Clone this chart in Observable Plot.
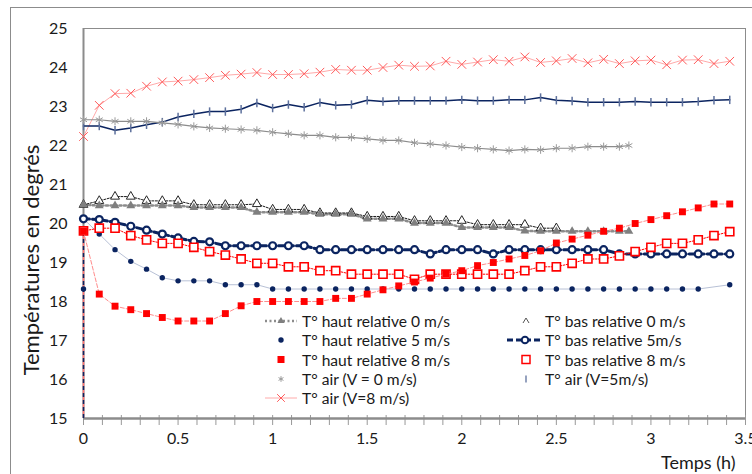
<!DOCTYPE html>
<html><head><meta charset="utf-8">
<script src="https://cdn.jsdelivr.net/npm/d3@7"></script>
<script src="https://cdn.jsdelivr.net/npm/@observablehq/plot@0.6"></script>
<style>
html,body{margin:0;padding:0;background:#fff;overflow:hidden;}
#wrap{position:relative;width:752px;height:474px;overflow:hidden;font-family:Lato,sans-serif;color:#1a1a1a;background:#fff;}
#border{position:absolute;left:10px;top:7px;width:800px;height:600px;border:1px solid #8c8c8c;}
#chart{position:absolute;left:0;top:0;}
#ytitle{position:absolute;left:30px;top:260px;transform:translate(-50%,-50%) rotate(-90deg);font-size:22px;white-space:nowrap;}
#xtitle{position:absolute;left:661px;top:451px;font-size:18px;white-space:nowrap;line-height:22px;}
#lgsvg{position:absolute;left:0;top:0;}
.lg{position:absolute;font-size:15.6px;white-space:nowrap;line-height:18px;height:18px;}
</style></head>
<body><div id="wrap"><div id="border"></div><div id="chart"></div>
<div id="ytitle">Températures en degrés</div>
<div id="xtitle">Temps (h)</div>
</div>
<script>
// ---- data (time in minutes, temperatures in °C) ----
const minutes = [0,5,10,15,20,25,30,35,40,45,50,55,60,65,70,75,80,85,90,95,100,105,110,115,120,125,130,135,140,145,150,155,160,165,170,175,180,185,190,195,200,205];
const minutes0 = [0,5,10,15,20,25,30,35,40,45,50,55,60,65,70,75,80,85,90,95,100,105,110,115,120,125,130,135,140,145,150,155,160,165,170,173];
const minutesBas0 = [0,5,10,15,20,25,30,35,40,45,50,55,60,65,70,75,80,85,90,95,100,105,110,115,120,125,130,135,140,145,150];

const hautRel0 = [20.48,20.46,20.46,20.46,20.46,20.46,20.46,20.41,20.41,20.41,20.41,20.29,20.29,20.29,20.29,20.24,20.24,20.24,20.12,20.12,20.12,20.01,20.01,20.01,19.90,19.90,19.90,19.90,19.81,19.80,19.80,19.80,19.80,19.80,19.80,19.80];
const basRel0 = [20.48,20.58,20.69,20.69,20.58,20.58,20.58,20.48,20.48,20.48,20.48,20.50,20.36,20.36,20.36,20.27,20.27,20.27,20.18,20.18,20.18,20.07,20.07,20.07,20.07,19.97,19.97,19.97,19.97,19.88,19.88];
const hautRel5 = [18.32,19.73,19.33,19.03,18.83,18.61,18.53,18.53,18.53,18.43,18.43,18.43,18.32,18.32,18.32,18.32,18.32,18.32,18.32,18.32,18.32,18.32,18.32,18.32,18.32,18.32,18.32,18.32,18.32,18.32,18.32,18.32,18.32,18.32,18.32,18.32,18.32,18.32,18.32,18.32,null,18.43];
const basRel5 = [20.12,20.10,20.03,19.93,19.83,19.73,19.63,19.54,19.53,19.43,19.43,19.43,19.43,19.43,19.43,19.33,19.33,19.33,19.33,19.33,19.33,19.33,19.22,19.33,19.33,19.33,19.22,19.33,19.33,19.33,19.33,19.33,19.33,19.33,19.22,19.22,19.22,19.22,19.22,19.22,19.22,19.22];
const hautRel8 = [19.80,18.19,17.88,17.79,17.69,17.59,17.50,17.50,17.50,17.69,17.89,18.00,18.00,18.00,18.00,18.00,18.08,18.08,18.19,18.30,18.40,18.50,18.60,18.70,18.79,18.92,19.00,19.09,19.18,19.30,19.50,19.60,19.70,19.80,19.88,20.00,20.10,20.20,20.30,20.40,20.50,20.50];
const basRel8 = [19.81,19.88,19.88,19.69,19.58,19.49,19.49,19.39,19.28,19.19,19.09,18.98,18.98,18.89,18.89,18.79,18.79,18.70,18.70,18.70,18.70,18.57,18.70,18.70,18.70,18.70,18.70,18.70,18.79,18.89,18.89,18.98,19.09,19.09,19.17,19.28,19.39,19.49,19.49,19.58,19.69,19.79];
const air0 = [22.66,22.66,22.62,22.62,22.62,22.58,22.54,22.49,22.45,22.43,22.41,22.39,22.34,22.30,22.26,22.26,22.21,22.21,22.17,22.13,22.13,22.07,22.04,22.00,21.96,21.93,21.90,21.87,21.90,21.89,21.93,21.93,21.97,21.97,21.97,22.00];
const air5 = [22.50,22.50,22.39,22.45,22.53,22.60,22.73,22.81,22.87,22.87,22.93,23.09,22.96,23.05,22.98,23.10,23.03,23.05,23.16,23.13,23.15,23.15,23.15,23.15,23.17,23.15,23.15,23.17,23.17,23.23,23.16,23.14,23.11,23.11,23.11,23.13,23.11,23.11,23.11,23.13,23.16,23.17];
const air8 = [22.23,23.03,23.33,23.34,23.52,23.63,23.65,23.69,23.74,23.80,23.83,23.87,23.82,23.82,23.84,23.88,23.95,23.93,23.93,24.00,24.06,24.03,24.04,24.16,24.08,24.14,24.20,24.16,24.27,24.13,24.17,24.23,24.12,24.21,24.10,24.17,24.19,24.07,24.19,24.20,24.10,24.16];

const xTicks = [0,0.5,1,1.5,2,2.5,3,3.5];
const xMinorTicks = [0,0.1,0.2,0.3,0.4,0.5,0.6,0.7,0.8,0.9,1,1.1,1.2,1.3,1.4,1.5,1.6,1.7,1.8,1.9,2,2.1,2.2,2.3,2.4,2.5,2.6,2.7,2.8,2.9,3,3.1,3.2,3.3,3.4,3.5];
const yTicks = [15,16,17,18,19,20,21,22,23,24,25];
const legendLabels = [
  "T° haut relative 0 m/s","T° haut relative 5 m/s","T° haut relative 8 m/s","T° air (V = 0 m/s)","T° air (V=8 m/s)",
  "T° bas relative 0 m/s","T° bas relative 5m/s","T° bas relative 8 m/s","T° air (V=5m/s)"
];

// ---- colours ----
const NAVY = "#0b2460", RED = "#ff0000", GREY = "#7f7f7f";

const rows = (ts, vs) => ts.map((m, i) => ({t: m / 60, v: vs[i]})).filter(d => d.v != null);
const dH0 = rows(minutes0, hautRel0), dB0 = rows(minutesBas0, basRel0);
const dH5 = rows(minutes, hautRel5), dB5 = rows(minutes, basRel5);
const dH8 = rows(minutes, hautRel8), dB8 = rows(minutes, basRel8);
const dA0 = rows(minutes0, air0), dA5 = rows(minutes, air5), dA8 = rows(minutes, air8);
const dH5line = [dB5[0], ...dH5.slice(1)];

const vbar = {draw(ctx, size) { const r = Math.sqrt(size / Math.PI); ctx.moveTo(0, -r); ctx.lineTo(0, r); }};

const chart = Plot.plot({
  width: 752, height: 474,
  marginLeft: 83, marginTop: 28, marginRight: 7, marginBottom: 56,
  style: {fontFamily: "Lato, sans-serif", fontSize: "16px", color: "#1a1a1a", background: "transparent"},
  x: {domain: [0, 3.5], ticks: xTicks, tickFormat: d => String(d), tickSize: 0, tickPadding: 14, label: null},
  y: {domain: [15, 25], ticks: yTicks, tickSize: 0, tickPadding: 16, label: null},
  marks: [
    Plot.frame({stroke: "#8c8c8c", strokeWidth: 1}),
    Plot.ruleX(xMinorTicks, {x: d => d, y1: yTicks[0], y2: yTicks[0], insetTop: -3, insetBottom: -7, stroke: "#999", strokeWidth: 1}),
    Plot.ruleY([yTicks[0]], {stroke: "#8c8c8c", strokeWidth: 2.5}),
    Plot.ruleX([0], {stroke: "#8c8c8c", strokeWidth: 2}),
    // vertical drop at t=0
    Plot.ruleX([0], {y1: yTicks[0], y2: hautRel8[0], stroke: "#ff6f6f", strokeWidth: 1.5}),
    Plot.ruleX([0], {y1: yTicks[0], y2: hautRel8[0], stroke: NAVY, strokeWidth: 1.5, strokeDasharray: "4,3"}),
    // air series
    Plot.line(dA8, {x: "t", y: "v", stroke: "#ffaaaa", strokeWidth: 1}),
    Plot.dot(dA8, {x: "t", y: "v", symbol: "times", r: 4, stroke: "#ff5a5a", strokeWidth: 1}),
    Plot.line(dA5, {x: "t", y: "v", stroke: NAVY, strokeWidth: 1.5}),
    Plot.dot(dA5, {x: "t", y: "v", symbol: vbar, r: 4.2, fill: "none", stroke: "#5d709c", strokeWidth: 1.5}),
    Plot.line(dA0, {x: "t", y: "v", stroke: "#8c8c8c", strokeWidth: 1.2}),
    Plot.dot(dA0, {x: "t", y: "v", symbol: "asterisk", r: 3.8, stroke: "#9a9a9a", strokeWidth: 1}),
    // 0 m/s
    Plot.line(dH0, {x: "t", y: "v", stroke: "#8c8c8c", strokeWidth: 2.5, strokeDasharray: "2,2.5"}),
    Plot.line(dB0, {x: "t", y: "v", stroke: "#1a1a1a", strokeWidth: 1, strokeDasharray: "2,1.5"}),
    Plot.dot(dB0, {x: "t", y: "v", symbol: "triangle", r: 3.3, fill: "white", stroke: "#262626", strokeWidth: 1}),
    Plot.dot(dH0, {x: "t", y: "v", symbol: "triangle", r: 3.3, fill: GREY, stroke: "none"}),
    // 5 m/s
    Plot.line(dH5line, {x: "t", y: "v", stroke: "#b8c1d6", strokeWidth: 1}),
    Plot.dot(dH5, {x: "t", y: "v", r: 2.7, fill: NAVY, stroke: "none"}),
    Plot.line(dB5, {x: "t", y: "v", stroke: NAVY, strokeWidth: 3, strokeDasharray: "6,3"}),
    Plot.dot(dB5, {x: "t", y: "v", r: 3.5, fill: "white", stroke: NAVY, strokeWidth: 2.2}),
    // 8 m/s
    Plot.line(dB8, {x: "t", y: "v", stroke: RED, strokeWidth: 1, strokeDasharray: "1.5,1.5"}),
    Plot.dot(dB8, {x: "t", y: "v", symbol: "square", r: 4.6, fill: "white", stroke: RED, strokeWidth: 1.6}),
    Plot.line(dH8, {x: "t", y: "v", stroke: "#ff8c8c", strokeWidth: 1, strokeDasharray: "4,2"}),
    Plot.dot(dH8, {x: "t", y: "v", symbol: "square", r: 3.9, fill: RED, stroke: "none"})
  ]
});
document.getElementById("chart").appendChild(chart);

// ---- legend (inside the plot area) ----
const wrap = document.getElementById("wrap");
const rowsY = [321, 340, 359.5, 379, 398];
const lg = d3.select(wrap).append("svg").attr("id", "lgsvg").attr("width", 752).attr("height", 474);
const sym = (type, size) => d3.symbol(type, size)();
legendLabels.forEach((lab, i) => {
  const col = i < 5 ? 0 : 1, r = i < 5 ? i : i - 5;
  const y = rowsY[r];
  const div = document.createElement("div");
  div.className = "lg"; div.textContent = lab;
  div.style.left = (col === 0 ? 302 : 545) + "px";
  div.style.top = (y - 9) + "px";
  wrap.appendChild(div);
  const cx = col === 0 ? 281 : 526;
  const g = lg.append("g").attr("transform", `translate(${cx},${y})`);
  if (i === 0) {
    g.append("line").attr("x1", -16).attr("x2", 16).attr("stroke", "#8c8c8c").attr("stroke-width", 2.5).attr("stroke-dasharray", "2,2.5");
    g.append("path").attr("d", sym(d3.symbolTriangle, 22)).attr("fill", GREY);
  } else if (i === 1) {
    g.append("circle").attr("r", 2.7).attr("fill", NAVY);
  } else if (i === 2) {
    g.append("rect").attr("x", -3.5).attr("y", -3.5).attr("width", 7).attr("height", 7).attr("fill", RED);
  } else if (i === 3) {
    g.append("path").attr("d", sym(d3.symbolAsterisk, 22)).attr("fill", "none").attr("stroke", "#9a9a9a");
  } else if (i === 4) {
    g.append("line").attr("x1", -16).attr("x2", 16).attr("stroke", "#ffaaaa");
    g.append("path").attr("d", sym(d3.symbolTimes, 40)).attr("fill", "none").attr("stroke", "#ff5a5a");
  } else if (i === 5) {
    g.append("path").attr("d", "M-3,2L0,-3L3,2").attr("fill", "none").attr("stroke", "#555").attr("stroke-width", 1);
  } else if (i === 6) {
    g.append("line").attr("x1", -19).attr("x2", 16).attr("stroke", NAVY).attr("stroke-width", 3).attr("stroke-dasharray", "6,3");
    g.append("circle").attr("cx", -1).attr("r", 3.3).attr("fill", "white").attr("stroke", NAVY).attr("stroke-width", 2);
  } else if (i === 7) {
    g.append("rect").attr("x", -4).attr("y", -4).attr("width", 8).attr("height", 8).attr("fill", "white").attr("stroke", RED).attr("stroke-width", 1.5);
  } else if (i === 8) {
    g.append("line").attr("y1", -3.5).attr("y2", 3.5).attr("stroke", "#5d709c").attr("stroke-width", 1.3);
  }
});
</script>
</body></html>
